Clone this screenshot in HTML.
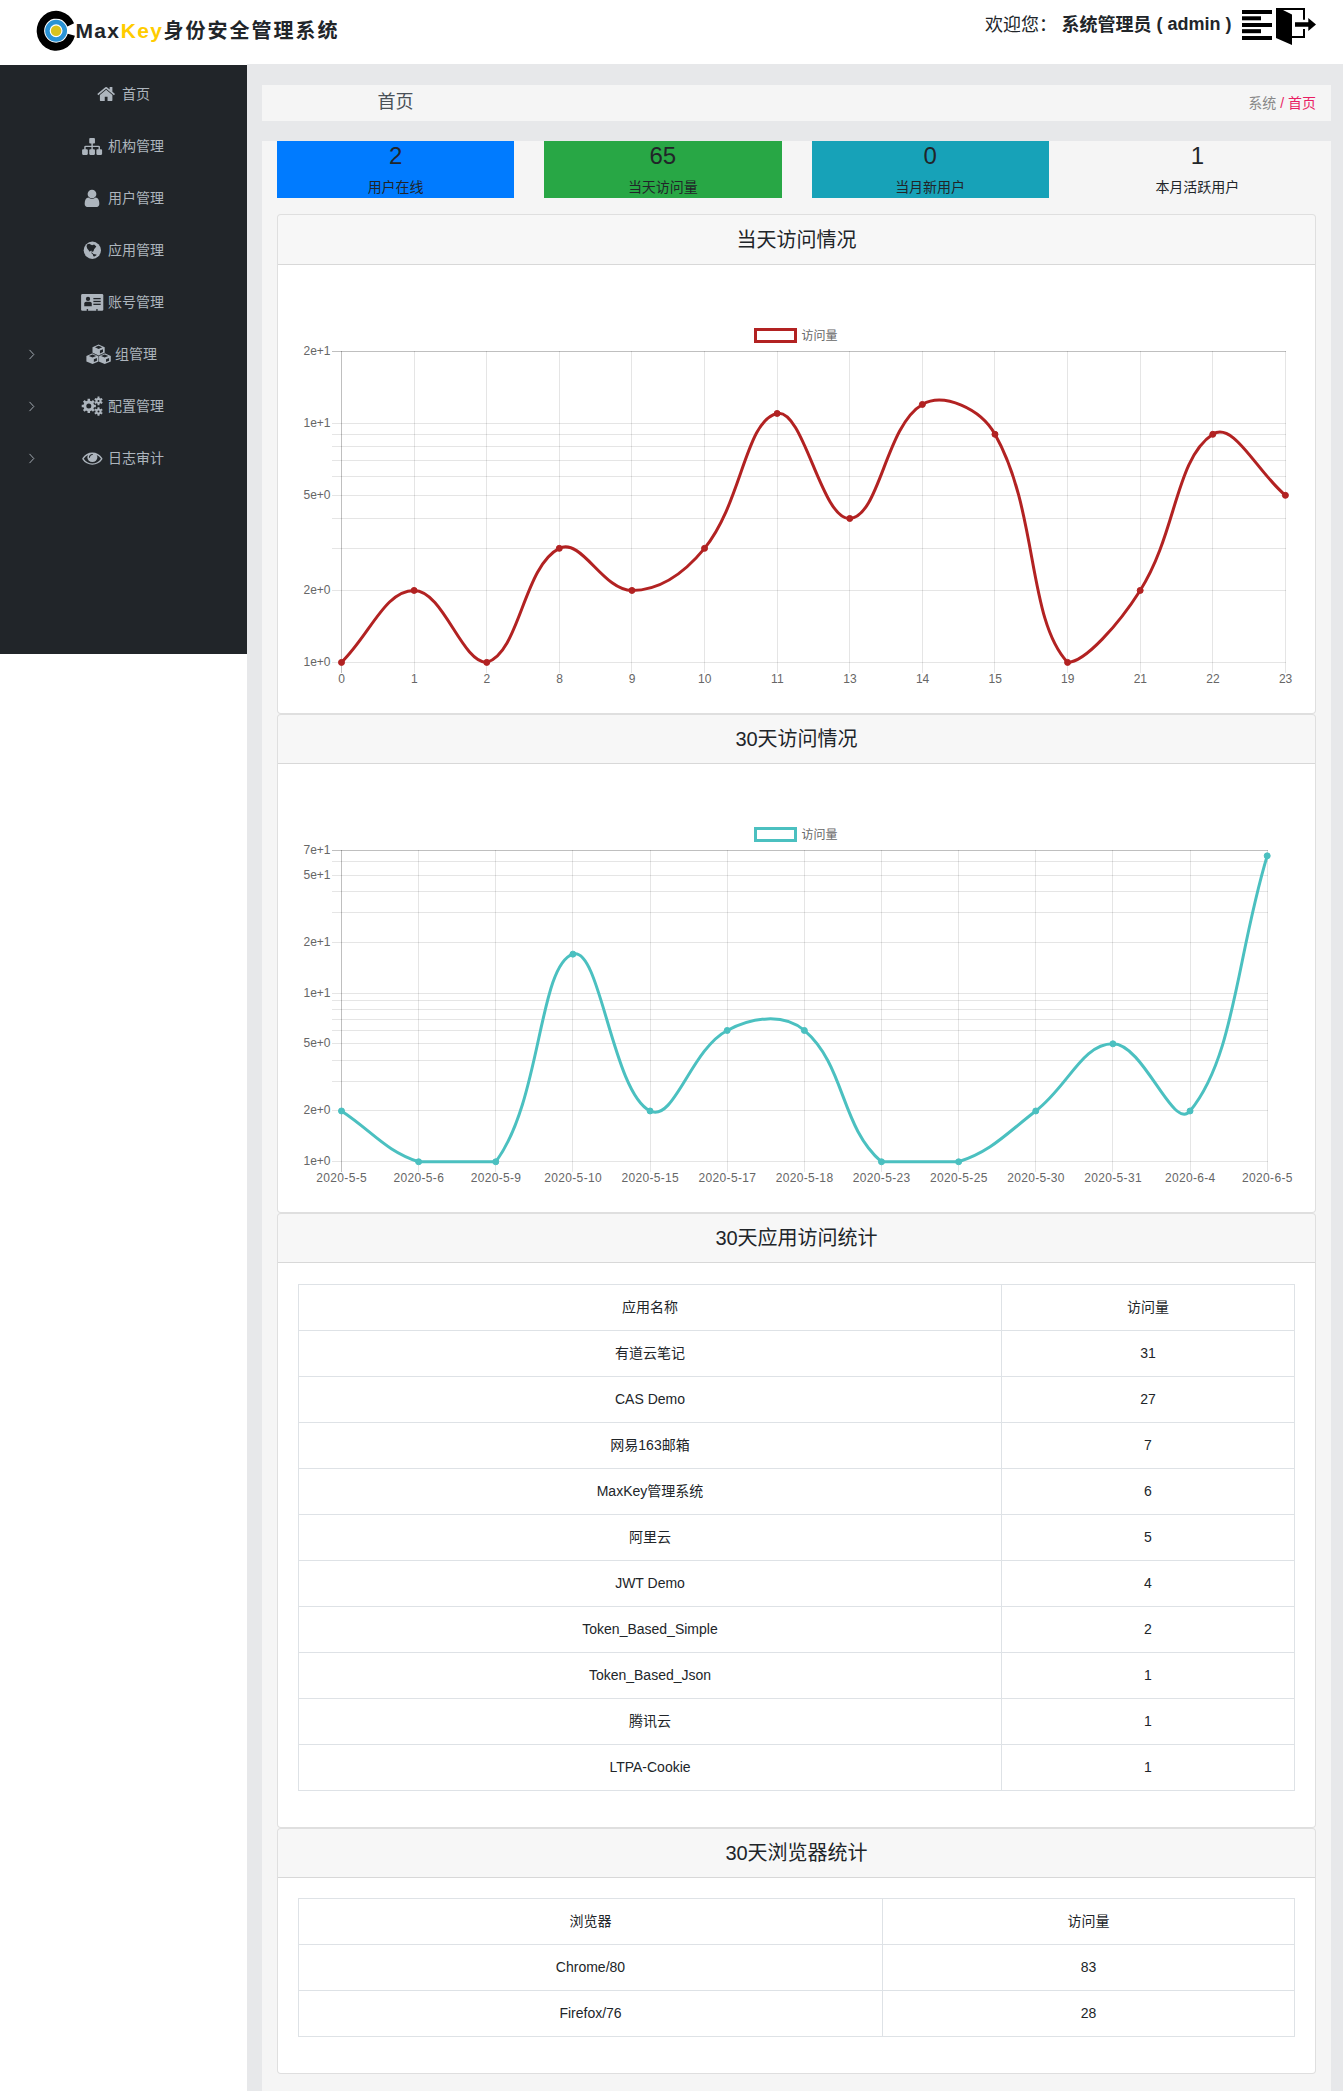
<!DOCTYPE html>
<html lang="zh-CN"><head><meta charset="utf-8"><title>MaxKey身份安全管理系统</title>
<style>
*{box-sizing:border-box}
html,body{margin:0;padding:0}
html{overflow:hidden}
body{width:1343px;height:2091px;position:relative;overflow:hidden;background:#fff;color:#212529;
 font-family:"Liberation Sans","Noto Sans CJK SC",sans-serif;font-size:14px;line-height:1.5}
.abs{position:absolute}
#hdr{position:absolute;left:0;top:0;width:1343px;height:65px;background:#fff}
#logo{position:absolute;left:30px;top:4px}
#title{position:absolute;left:75.5px;top:15.5px;font-size:20px;font-weight:bold;letter-spacing:2px;line-height:30px;white-space:nowrap;color:#212529}
#title .l{font-size:21px;letter-spacing:1.35px;margin-right:0.3px}
#title .k{color:#ffcc00}
#welcome .up{position:relative;top:-1px}
#welcome{position:absolute;left:985px;top:11.5px;font-size:18px;line-height:27px;white-space:nowrap;color:#212529}
#welcome b{margin-left:4.5px}
#side{position:absolute;left:0;top:65px;width:247px;height:589px;background:#212529;color:#adb5bd}
#side .it{position:absolute;left:0;width:247px;height:21px;line-height:21px;white-space:nowrap}
#side .it span{position:absolute;top:0}
#side svg{position:absolute;fill:#adb5bd}
#main{position:absolute;left:247px;top:64px;width:1096px;height:2027px;background:#e7e8ea}
.box{position:absolute;left:262px;width:1069px;background:#f5f5f5}
#crumb{top:85px;height:36px}
#crumb .t{position:absolute;left:0;width:267px;text-align:center;top:4px;font-size:18px;line-height:27px;color:#495057}
#crumb .bc{position:absolute;right:15px;top:8px;font-size:14px;line-height:21px;color:#888;white-space:nowrap}
#crumb .bc i{font-style:normal;color:#e91e63}
#content{top:141px;height:1950px}
.stat{position:absolute;top:141px;width:237.25px;height:57px;text-align:center;color:#212529}
.stat h4{margin:0;font-size:24px;line-height:28.8px;font-weight:normal;padding-top:1px;margin-bottom:6.2px}
.stat div{font-size:14px;line-height:21px}
.card{position:absolute;left:277px;width:1039px;background:#fff;border:1px solid rgba(0,0,0,.125);border-radius:4px}
.card .hd{height:49px;background:rgba(0,0,0,.03);border-bottom:1px solid rgba(0,0,0,.125);border-radius:3px 3px 0 0;
 text-align:center;font-size:20px;line-height:24px;padding-top:12px;color:#212529}
table{position:absolute;left:298px;width:997px;border-collapse:collapse;table-layout:fixed;text-align:center;color:#212529}
td,th{border:1px solid #dee2e6;padding:12.3px 12px 11.7px;height:46px;line-height:21px;font-weight:normal;font-size:14px}
svg.chart{position:absolute;overflow:visible}
svg.chart text{font-family:"Liberation Sans","Noto Sans CJK SC",sans-serif;font-size:12px;fill:#666}
</style></head><body>
<div id="hdr">
<svg id="logo" style="position:absolute;left:30px;top:5px" width="52" height="52" viewBox="30 5 52 52"><path d="M74.92 35.64A19.4 20 0 1 1 74.09 23.31L67.43 26.6A12 12 0 1 0 67.74 33.7Z" fill="#000"/><circle cx="56.1" cy="30.8" r="8.7" fill="none" stroke="#2a93d5" stroke-width="4.5"/><circle cx="56.1" cy="30.8" r="5.25" fill="#d9c21e"/></svg>
<div id="title"><span class="l">Max</span><span class="l k">Key</span>身份安全管理系统</div>
<div id="welcome">欢迎您：<b>系统管理员 <span class="up">( admin )</span></b></div>
<svg style="position:absolute;left:1240px;top:5px" width="80" height="44" viewBox="1240 5 80 44" fill="#000"><rect x="1242" y="10" width="30" height="4"/><rect x="1242" y="16.3" width="19" height="4"/><rect x="1242" y="23" width="30" height="4"/><rect x="1242" y="29.2" width="19" height="4"/><rect x="1242" y="36" width="30" height="4"/><path d="M1276 8H1305V19.8H1303V10H1283L1292 14.6V36H1303V29H1305V38H1292V45L1276 38Z"/><path d="M1295 22.2H1308.3V18L1316 24.4L1308.3 31V26.8H1295Z"/></svg>
</div>
<div id="main"></div>
<div id="side">
<div class="it" style="top:19px">
<svg style="left:96px;top:1px" width="20" height="17" viewBox="96 85 20 17"><path transform="translate(97.4 86.9) scale(0.01085 0.01099) translate(-89.9 -253)" d="M1472 992v480q0 26-19 45t-45 19h-384v-384h-256v384h-384q-26 0-45-19t-19-45v-480q0-1 .5-3t.5-3l575-474 575 474q1 2 1 6zm223-69l-62 74q-8 9-21 11h-3q-13 0-21-7l-692-577-692 577q-12 8-24 7-13-2-21-11l-62-74q-8-10-7-23.500t11-21.500l719-599q32-26 76-26t76 26l244 204v-195q0-14 9-23t23-9h192q14 0 23 9t9 23v408l219 182q10 8 11 21.500t-7 23.500z"/></svg>
<span style="left:122px">首页</span>
</div>
<div class="it" style="top:71px">
<svg style="left:81px;top:0px" width="23" height="20" viewBox="81 136 23 20"><path transform="translate(82.1 137.9) scale(0.01116 0.01107) translate(0 -128)" d="M1792 1248v320q0 40-28 68t-68 28h-320q-40 0-68-28t-28-68v-320q0-40 28-68t68-28h96v-192h-512v192h96q40 0 68 28t28 68v320q0 40-28 68t-68 28h-320q-40 0-68-28t-28-68v-320q0-40 28-68t68-28h96v-192h-512v192h96q40 0 68 28t28 68v320q0 40-28 68t-68 28h-320q-40 0-68-28t-28-68v-320q0-40 28-68t68-28h96v-192q0-52 38-90t90-38h512v-192h-96q-40 0-68-28t-28-68v-320q0-40 28-68t68-28h320q40 0 68 28t28 68v320q0 40-28 68t-68 28h-96v192h512q52 0 90 38t38 90v192h96q40 0 68 28t28 68z"/></svg>
<span style="left:108px">机构管理</span>
</div>
<div class="it" style="top:123px">
<svg style="left:83px;top:0px" width="18" height="20" viewBox="83 188 18 20"><path transform="translate(84.7 189.7) scale(0.01141 0.01120) translate(-256 -128)" d="M1536 1399q0 109-62.500 187t-150.500 78h-854q-88 0-150.500-78t-62.500-187q0-85 8.500-160.500t31.500-152 58.500-131 94-89 134.500-34.500q131 128 313 128t313-128q76 0 134.500 34.500t94 89 58.500 131 31.500 152 8.500 160.500zm-256-887q0 159-112.500 271.500t-271.500 112.500-271.500-112.500-112.500-271.500 112.500-271.500 271.500-112.500 271.500 112.500 112.500 271.500z"/></svg>
<span style="left:108px">用户管理</span>
</div>
<div class="it" style="top:175px">
<svg style="left:82px;top:0px" width="20" height="20" viewBox="82 240 20 20"><circle cx="92.35" cy="250.25" r="8.65"/><path fill="#212529" d="M86.99 244.55L89.23 243.74L92.07 245.16L94.11 244.55L96.34 246.59L94.11 249.23L93.5 251.26L91.87 252.07L91.26 250.45L89.63 251.67L88.41 250.04L87.2 248.41L86.59 246.38ZM91.26 252.07L92.48 252.89L93.5 254.11L96.14 254.51L96.75 255.12L94.51 256.54L93.29 256.14L92.89 254.51L91.67 253.5Z"/></svg>
<span style="left:108px">应用管理</span>
</div>
<div class="it" style="top:227px">
<svg style="left:80px;top:1px" width="25" height="19" viewBox="80 293 25 19"><rect x="81.1" y="294.1" width="22.2" height="16.7" rx="1.3"/><g fill="#212529"><circle cx="88.01" cy="298.9" r="2.15"/><path d="M84.27 306.14V303.47q0 -1.6 1.8 -1.6h3.88q1.8 0 1.8 1.6V306.14z"/><rect x="93.37" y="297.97" width="7.32" height="1.3"/><rect x="93.37" y="300.81" width="7.32" height="1.3"/><rect x="93.37" y="303.66" width="7.32" height="1.3"/><rect x="86.7" y="309.07" width="1.4" height="1.9"/><rect x="96.25" y="309.07" width="1.4" height="1.9"/></g></svg>
<span style="left:108px">账号管理</span>
</div>
<div class="it" style="top:279px">
<svg style="left:27px;top:3px" width="9" height="15" viewBox="0 0 9 15"><path d="M2.5 2.9L6.8 7.5L2.5 12.1" fill="none" stroke="#a9b0b7" stroke-width="0.95"/></svg>
<svg style="left:85px;top:-1px" width="27" height="23" viewBox="85 343 27 23"><path d="M98.6 344.6L104.7 347.3L104.7 352.7L98.6 355.4L92.5 352.7L92.5 347.3ZM92.5 353.3L98.6 356L98.6 361.4L92.5 364.1L86.4 361.4L86.4 356ZM104.7 353.3L110.8 356L110.8 361.4L104.7 364.1L98.6 361.4L98.6 356Z"/><path fill="#212529" d="M98.6 345.68L102.26 347.3L98.6 348.92L94.94 347.3ZM99.94 350.59L102.99 349.24L102.99 352.05L99.94 353.4ZM92.5 354.38L96.16 356L92.5 357.62L88.84 356ZM93.84 359.29L96.89 357.94L96.89 360.75L93.84 362.1ZM104.7 354.38L108.36 356L104.7 357.62L101.04 356ZM106.04 359.29L109.09 357.94L109.09 360.75L106.04 362.1Z"/><path fill="none" stroke="#212529" stroke-width="0.5" d="M92.5 353.3L98.6 356L104.7 353.3M98.6 356V364.1"/></svg>
<span style="left:115px">组管理</span>
</div>
<div class="it" style="top:331px">
<svg style="left:27px;top:3px" width="9" height="15" viewBox="0 0 9 15"><path d="M2.5 2.9L6.8 7.5L2.5 12.1" fill="none" stroke="#a9b0b7" stroke-width="0.95"/></svg>
<svg style="left:80px;top:-1px" width="24" height="22" viewBox="80 395 24 22"><path fill-rule="evenodd" d="M94.05 404.63L95.89 404.66L95.89 407.14L94.05 407.17L93.41 408.71L94.69 410.04L92.94 411.79L91.61 410.51L90.07 411.15L90.04 412.99L87.56 412.99L87.53 411.15L85.99 410.51L84.66 411.79L82.91 410.04L84.19 408.71L83.55 407.17L81.71 407.14L81.71 404.66L83.55 404.63L84.19 403.09L82.91 401.76L84.66 400.01L85.99 401.29L87.53 400.65L87.56 398.81L90.04 398.81L90.07 400.65L91.61 401.29L92.94 400.01L94.69 401.76L93.41 403.09ZM86.3 405.9a2.5 2.5 0 1 0 5 0a2.5 2.5 0 1 0 -5 0ZM101.53 401.54L102.71 402.17L101.71 403.91L100.57 403.21L99.47 403.85L99.5 405.18L97.5 405.18L97.53 403.85L96.43 403.21L95.29 403.91L94.29 402.17L95.47 401.54L95.47 400.26L94.29 399.63L95.29 397.89L96.43 398.59L97.53 397.95L97.5 396.62L99.5 396.62L99.47 397.95L100.57 398.59L101.71 397.89L102.71 399.63L101.53 400.26ZM97.5 400.9a1 1 0 1 0 2 0a1 1 0 1 0 -2 0ZM101.53 412.14L102.71 412.77L101.71 414.51L100.57 413.81L99.47 414.45L99.5 415.78L97.5 415.78L97.53 414.45L96.43 413.81L95.29 414.51L94.29 412.77L95.47 412.14L95.47 410.86L94.29 410.23L95.29 408.49L96.43 409.19L97.53 408.55L97.5 407.22L99.5 407.22L99.47 408.55L100.57 409.19L101.71 408.49L102.71 410.23L101.53 410.86ZM97.5 411.5a1 1 0 1 0 2 0a1 1 0 1 0 -2 0Z"/></svg>
<span style="left:108px">配置管理</span>
</div>
<div class="it" style="top:383px">
<svg style="left:27px;top:3px" width="9" height="15" viewBox="0 0 9 15"><path d="M2.5 2.9L6.8 7.5L2.5 12.1" fill="none" stroke="#a9b0b7" stroke-width="0.95"/></svg>
<svg style="left:81px;top:3px" width="23" height="15" viewBox="81 451 23 15"><path transform="translate(82.3 452.5) scale(0.01122 0.01068) translate(0 -384)" d="M1664 960q-152-236-381-353 61 104 61 225 0 185-131.500 316.500t-316.500 131.500-316.500-131.500-131.500-316.500q0-121 61-225-229 117-381 353 133 205 333.500 326.500t434.500 121.500 434.500-121.500 333.500-326.500zm-720-384q0-20-14-34t-34-14q-125 0-214.500 89.500t-89.500 214.500q0 20 14 34t34 14 34-14 14-34q0-86 61-147t147-61q20 0 34-14t14-34zm848 384q0 34-20 69-140 230-376.500 368.500t-499.500 138.500-499.500-139-376.500-368q-20-35-20-69t20-69q140-229 376.500-368t499.500-139 499.500 139 376.500 368q20 35 20 69z"/></svg>
<span style="left:108px">日志审计</span>
</div>
</div>
<div class="box" id="crumb"><div class="t">首页</div><div class="bc">系统 <i>/ 首页</i></div></div>
<div class="box" id="content"></div>
<div class="stat" style="left:277px;background:#007bff"><h4>2</h4><div>用户在线</div></div>
<div class="stat" style="left:544.25px;background:#28a745"><h4>65</h4><div>当天访问量</div></div>
<div class="stat" style="left:811.5px;background:#17a2b8"><h4>0</h4><div>当月新用户</div></div>
<div class="stat" style="left:1078.75px;background:transparent"><h4>1</h4><div>本月活跃用户</div></div>
<div class="card" style="top:214px;height:500px"><div class="hd" style="height:50px;padding-top:13px">当天访问情况</div></div>
<svg class="chart" style="left:298px;top:285px" width="997" height="410" viewBox="0 0 997 410">
<g fill="none" stroke-width="1" shape-rendering="crispEdges"><path d="M33.5 66.5H987.9" stroke="rgba(0,0,0,0.25)"/><path d="M33.5 138.5H987.9" stroke="rgba(0,0,0,0.1)"/><path d="M33.5 149.5H987.9" stroke="rgba(0,0,0,0.1)"/><path d="M33.5 161.5H987.9" stroke="rgba(0,0,0,0.1)"/><path d="M33.5 175.5H987.9" stroke="rgba(0,0,0,0.1)"/><path d="M33.5 191.5H987.9" stroke="rgba(0,0,0,0.1)"/><path d="M33.5 210.5H987.9" stroke="rgba(0,0,0,0.1)"/><path d="M33.5 233.5H987.9" stroke="rgba(0,0,0,0.1)"/><path d="M33.5 263.5H987.9" stroke="rgba(0,0,0,0.1)"/><path d="M33.5 305.5H987.9" stroke="rgba(0,0,0,0.1)"/><path d="M33.5 377.5H987.9" stroke="rgba(0,0,0,0.1)"/><path d="M43.5 66.4V387.9" stroke="rgba(0,0,0,0.25)"/><path d="M116.5 66.4V387.9" stroke="rgba(0,0,0,0.1)"/><path d="M188.5 66.4V387.9" stroke="rgba(0,0,0,0.1)"/><path d="M261.5 66.4V387.9" stroke="rgba(0,0,0,0.1)"/><path d="M333.5 66.4V387.9" stroke="rgba(0,0,0,0.1)"/><path d="M406.5 66.4V387.9" stroke="rgba(0,0,0,0.1)"/><path d="M479.5 66.4V387.9" stroke="rgba(0,0,0,0.1)"/><path d="M551.5 66.4V387.9" stroke="rgba(0,0,0,0.1)"/><path d="M624.5 66.4V387.9" stroke="rgba(0,0,0,0.1)"/><path d="M696.5 66.4V387.9" stroke="rgba(0,0,0,0.1)"/><path d="M769.5 66.4V387.9" stroke="rgba(0,0,0,0.1)"/><path d="M842.5 66.4V387.9" stroke="rgba(0,0,0,0.1)"/><path d="M914.5 66.4V387.9" stroke="rgba(0,0,0,0.1)"/><path d="M987.5 66.4V387.9" stroke="rgba(0,0,0,0.1)"/></g>
<g class="tk"><text x="32.5" y="69.9" text-anchor="end">2e+1</text><text x="32.5" y="141.86" text-anchor="end">1e+1</text><text x="32.5" y="213.82" text-anchor="end">5e+0</text><text x="32.5" y="308.94" text-anchor="end">2e+0</text><text x="32.5" y="380.9" text-anchor="end">1e+0</text><text x="43.7" y="397.9" text-anchor="middle">0</text><text x="116.31" y="397.9" text-anchor="middle">1</text><text x="188.92" y="397.9" text-anchor="middle">2</text><text x="261.52" y="397.9" text-anchor="middle">8</text><text x="334.13" y="397.9" text-anchor="middle">9</text><text x="406.74" y="397.9" text-anchor="middle">10</text><text x="479.35" y="397.9" text-anchor="middle">11</text><text x="551.95" y="397.9" text-anchor="middle">13</text><text x="624.56" y="397.9" text-anchor="middle">14</text><text x="697.17" y="397.9" text-anchor="middle">15</text><text x="769.78" y="397.9" text-anchor="middle">19</text><text x="842.38" y="397.9" text-anchor="middle">21</text><text x="914.99" y="397.9" text-anchor="middle">22</text><text x="987.6" y="397.9" text-anchor="middle">23</text></g>
<rect x="457.5" y="44.5" width="40" height="12" fill="none" stroke="rgb(178,34,34)" stroke-width="3"/>
<text class="lg" x="503.5" y="55">访问量</text>
<path d="M43.5 377.4C72.54 348.62 87.06 305.44 116.11 305.44C145.15 305.44 163.71 377.4 188.72 377.4C221.79 367.81 225.48 281.11 261.32 263.35C283.57 252.32 304.89 305.44 333.93 305.44C362.97 305.44 385.98 288.41 406.54 263.35C444.06 217.61 447.47 134.98 479.15 128.46C505.55 123.03 523.54 235.24 551.75 233.48C581.63 231.62 587.61 140.73 624.36 119.43C645.7 107.06 682.62 123.81 696.97 149.3C740.71 227 728.87 333.63 769.58 377.4C786.96 377.4 820.55 339.43 842.18 305.44C878.63 248.19 877.34 173.83 914.79 149.3C935.42 135.78 958.36 185.91 987.4 210.32" fill="none" stroke="rgb(178,34,34)" stroke-width="3" stroke-linecap="butt" stroke-linejoin="miter"/>
<g fill="rgb(178,34,34)" stroke="rgb(178,34,34)" stroke-width="1"><circle cx="43.5" cy="377.4" r="3"/><circle cx="116.11" cy="305.44" r="3"/><circle cx="188.72" cy="377.4" r="3"/><circle cx="261.32" cy="263.35" r="3"/><circle cx="333.93" cy="305.44" r="3"/><circle cx="406.54" cy="263.35" r="3"/><circle cx="479.15" cy="128.46" r="3"/><circle cx="551.75" cy="233.48" r="3"/><circle cx="624.36" cy="119.43" r="3"/><circle cx="696.97" cy="149.3" r="3"/><circle cx="769.58" cy="377.4" r="3"/><circle cx="842.18" cy="305.44" r="3"/><circle cx="914.79" cy="149.3" r="3"/><circle cx="987.4" cy="210.32" r="3"/></g>
</svg>
<div class="card" style="top:714px;height:499px"><div class="hd">30天访问情况</div></div>
<svg class="chart" style="left:298px;top:784px" width="997" height="410" viewBox="0 0 997 410">
<g fill="none" stroke-width="1" shape-rendering="crispEdges"><path d="M33.5 66.5H969.7" stroke="rgba(0,0,0,0.25)"/><path d="M33.5 77.5H969.7" stroke="rgba(0,0,0,0.1)"/><path d="M33.5 91.5H969.7" stroke="rgba(0,0,0,0.1)"/><path d="M33.5 107.5H969.7" stroke="rgba(0,0,0,0.1)"/><path d="M33.5 128.5H969.7" stroke="rgba(0,0,0,0.1)"/><path d="M33.5 158.5H969.7" stroke="rgba(0,0,0,0.1)"/><path d="M33.5 209.5H969.7" stroke="rgba(0,0,0,0.1)"/><path d="M33.5 216.5H969.7" stroke="rgba(0,0,0,0.1)"/><path d="M33.5 225.5H969.7" stroke="rgba(0,0,0,0.1)"/><path d="M33.5 235.5H969.7" stroke="rgba(0,0,0,0.1)"/><path d="M33.5 246.5H969.7" stroke="rgba(0,0,0,0.1)"/><path d="M33.5 259.5H969.7" stroke="rgba(0,0,0,0.1)"/><path d="M33.5 276.5H969.7" stroke="rgba(0,0,0,0.1)"/><path d="M33.5 297.5H969.7" stroke="rgba(0,0,0,0.1)"/><path d="M33.5 326.5H969.7" stroke="rgba(0,0,0,0.1)"/><path d="M33.5 377.5H969.7" stroke="rgba(0,0,0,0.1)"/><path d="M43.5 66.4V388.28" stroke="rgba(0,0,0,0.25)"/><path d="M120.5 66.4V388.28" stroke="rgba(0,0,0,0.1)"/><path d="M197.5 66.4V388.28" stroke="rgba(0,0,0,0.1)"/><path d="M274.5 66.4V388.28" stroke="rgba(0,0,0,0.1)"/><path d="M352.5 66.4V388.28" stroke="rgba(0,0,0,0.1)"/><path d="M429.5 66.4V388.28" stroke="rgba(0,0,0,0.1)"/><path d="M506.5 66.4V388.28" stroke="rgba(0,0,0,0.1)"/><path d="M583.5 66.4V388.28" stroke="rgba(0,0,0,0.1)"/><path d="M660.5 66.4V388.28" stroke="rgba(0,0,0,0.1)"/><path d="M737.5 66.4V388.28" stroke="rgba(0,0,0,0.1)"/><path d="M814.5 66.4V388.28" stroke="rgba(0,0,0,0.1)"/><path d="M892.5 66.4V388.28" stroke="rgba(0,0,0,0.1)"/><path d="M969.5 66.4V388.28" stroke="rgba(0,0,0,0.1)"/></g>
<g class="tk"><text x="32.5" y="69.9" text-anchor="end">7e+1</text><text x="32.5" y="94.56" text-anchor="end">5e+1</text><text x="32.5" y="161.72" text-anchor="end">2e+1</text><text x="32.5" y="212.52" text-anchor="end">1e+1</text><text x="32.5" y="263.32" text-anchor="end">5e+0</text><text x="32.5" y="330.48" text-anchor="end">2e+0</text><text x="32.5" y="381.28" text-anchor="end">1e+0</text><text x="43.7" y="398.28" text-anchor="middle" letter-spacing="0.33">2020-5-5</text><text x="120.84" y="398.28" text-anchor="middle" letter-spacing="0.33">2020-5-6</text><text x="197.98" y="398.28" text-anchor="middle" letter-spacing="0.33">2020-5-9</text><text x="275.13" y="398.28" text-anchor="middle" letter-spacing="0.33">2020-5-10</text><text x="352.27" y="398.28" text-anchor="middle" letter-spacing="0.33">2020-5-15</text><text x="429.41" y="398.28" text-anchor="middle" letter-spacing="0.33">2020-5-17</text><text x="506.55" y="398.28" text-anchor="middle" letter-spacing="0.33">2020-5-18</text><text x="583.69" y="398.28" text-anchor="middle" letter-spacing="0.33">2020-5-23</text><text x="660.83" y="398.28" text-anchor="middle" letter-spacing="0.33">2020-5-25</text><text x="737.98" y="398.28" text-anchor="middle" letter-spacing="0.33">2020-5-30</text><text x="815.12" y="398.28" text-anchor="middle" letter-spacing="0.33">2020-5-31</text><text x="892.26" y="398.28" text-anchor="middle" letter-spacing="0.33">2020-6-4</text><text x="969.4" y="398.28" text-anchor="middle" letter-spacing="0.33">2020-6-5</text></g>
<rect x="457.5" y="44.5" width="40" height="12" fill="none" stroke="rgb(75,192,192)" stroke-width="3"/>
<text class="lg" x="503.5" y="55">访问量</text>
<path d="M43.5 326.98C74.36 347.3 87.01 366.71 120.64 377.78C148.73 377.78 181.84 377.78 197.78 377.78C243.56 316.17 240.43 181.49 274.93 170.13C302.14 161.17 314.39 308.34 352.07 326.98C376.1 338.87 392.73 265.5 429.21 246.46C454.44 233.29 485.6 228.8 506.35 246.46C547.31 281.33 542.53 342.91 583.49 377.78C604.24 377.78 632.55 377.78 660.63 377.78C694.26 366.71 708.49 349.37 737.78 326.98C770.2 302.18 784.06 259.82 814.92 259.82C845.77 259.82 874.95 347.83 892.06 326.98C936.66 272.63 938.34 173.89 969.2 71.83" fill="none" stroke="rgb(75,192,192)" stroke-width="3" stroke-linecap="butt" stroke-linejoin="miter"/>
<g fill="rgb(75,192,192)" stroke="rgb(75,192,192)" stroke-width="1"><circle cx="43.5" cy="326.98" r="3"/><circle cx="120.64" cy="377.78" r="3"/><circle cx="197.78" cy="377.78" r="3"/><circle cx="274.93" cy="170.13" r="3"/><circle cx="352.07" cy="326.98" r="3"/><circle cx="429.21" cy="246.46" r="3"/><circle cx="506.35" cy="246.46" r="3"/><circle cx="583.49" cy="377.78" r="3"/><circle cx="660.63" cy="377.78" r="3"/><circle cx="737.78" cy="326.98" r="3"/><circle cx="814.92" cy="259.82" r="3"/><circle cx="892.06" cy="326.98" r="3"/><circle cx="969.2" cy="71.83" r="3"/></g>
</svg>
<div class="card" style="top:1213px;height:615px"><div class="hd">30天应用访问统计</div></div>
<table style="top:1284px"><colgroup><col style="width:703px"><col></colgroup>
<tr><th>应用名称</th><th>访问量</th></tr>
<tr><td>有道云笔记</td><td>31</td></tr>
<tr><td>CAS Demo</td><td>27</td></tr>
<tr><td>网易163邮箱</td><td>7</td></tr>
<tr><td>MaxKey管理系统</td><td>6</td></tr>
<tr><td>阿里云</td><td>5</td></tr>
<tr><td>JWT Demo</td><td>4</td></tr>
<tr><td>Token_Based_Simple</td><td>2</td></tr>
<tr><td>Token_Based_Json</td><td>1</td></tr>
<tr><td>腾讯云</td><td>1</td></tr>
<tr><td>LTPA-Cookie</td><td>1</td></tr>
</table>
<div class="card" style="top:1828px;height:246px"><div class="hd">30天浏览器统计</div></div>
<table style="top:1898px"><colgroup><col style="width:584px"><col></colgroup>
<tr><th>浏览器</th><th>访问量</th></tr>
<tr><td>Chrome/80</td><td>83</td></tr>
<tr><td>Firefox/76</td><td>28</td></tr>
</table>
</body></html>
